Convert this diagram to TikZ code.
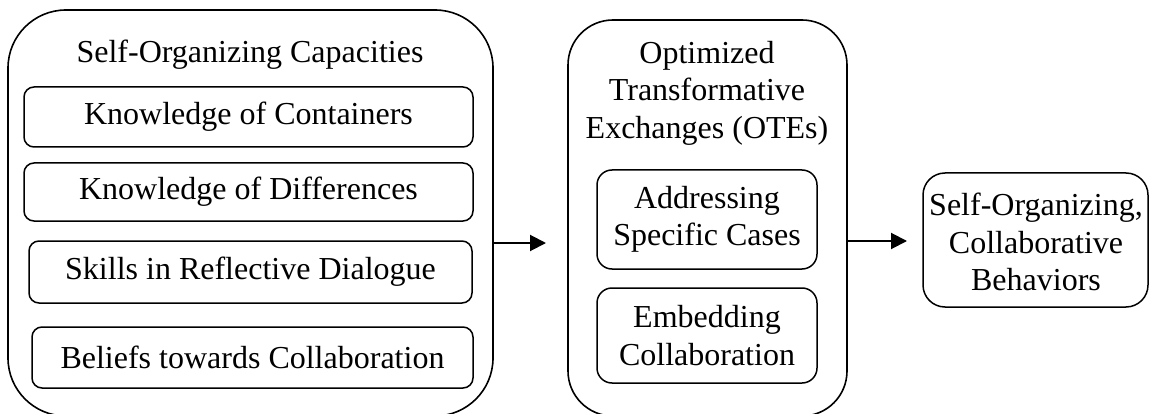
\documentclass[tikz,border=0pt]{standalone}
\usepackage{fontspec}
\setmainfont{Liberation Serif}
\usetikzlibrary{arrows.meta}
\begin{document}
\begin{tikzpicture}[x=1pt,y=-1pt,
  every node/.style={font=\fontsize{32}{37.5}\selectfont, inner sep=0pt, align=center},
  bigbox/.style={draw, line width=1.6pt, rounded corners=#1},
  smallbox/.style={draw, line width=1.5pt, rounded corners=#1},
  arr/.style={line width=2pt, -{Triangle[length=16pt,width=16pt]}}]
\useasboundingbox (0,0) rectangle (1150,414);
% outer containers
\node[bigbox=58pt, minimum width=485pt, minimum height=406pt] (capbox) at (250.5,213) {};
\node[bigbox=45pt, minimum width=279pt, minimum height=396pt] (otebox) at (707.5,218) {};
\node[smallbox=22pt, minimum width=225pt, minimum height=134pt] (behav) at (1035.5,240) {};
% titles
\node[anchor=base] (captitle) at (250,63) {Self-Organizing Capacities};
\node (otetitle) at (707,93) {Optimized\\Transformative\\Exchanges (OTEs)};
\node (behavtext) at (1036,242) {Self-Organizing,\\Collaborative\\Behaviors};
% inner boxes, left
\node[smallbox=10pt, minimum width=449pt, minimum height=60pt] (cont) at (248.5,117) {Knowledge of Containers};
\node[smallbox=10pt, minimum width=449pt, minimum height=58pt] (diff) at (248.5,192) {Knowledge of Differences};
\node[smallbox=10pt, minimum width=443pt, minimum height=62pt] (skill) at (250.5,272) {Skills in Reflective Dialogue};
\node[smallbox=10pt, minimum width=441pt, minimum height=61pt] (belief) at (252.5,357.5) {Beliefs towards Collaboration};
% inner boxes, middle
\node[smallbox=15pt, minimum width=220pt, minimum height=99pt] (addr) at (707,219.5) {Addressing\\Specific Cases};
\node[smallbox=15pt, minimum width=220pt, minimum height=95pt] (embed) at (707,335.5) {Embedding\\Collaboration};
% arrows
\coordinate (a1e) at (546,243);
\coordinate (a2e) at (907,241);
\draw[arr] (capbox.east |- a1e) -- (a1e);
\draw[arr] (otebox.east |- a2e) -- (a2e);
\end{tikzpicture}
\end{document}
